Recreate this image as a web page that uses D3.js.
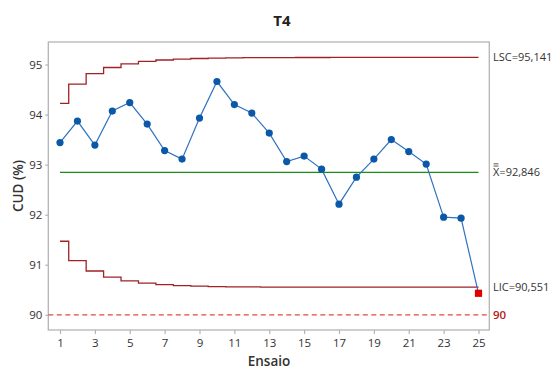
<!DOCTYPE html>
<html>
<head>
<meta charset="utf-8">
<script src="https://cdn.jsdelivr.net/npm/d3@7"></script>
<style>
  html, body { margin: 0; padding: 0; background: #fff; }
  svg { display: block; font-family: "Open Sans", "Noto Sans", sans-serif; }
</style>
</head>
<body>
<svg id="chart" width="552" height="369"></svg>
<script>
// Ensaio numbers (x) and CUD values (%)
const ensaio = d3.range(1, 26);
const cud = [93.44, 93.87, 93.39, 94.07, 94.24, 93.81, 93.28, 93.11, 93.93, 94.66,
             94.20, 94.03, 93.63, 93.06, 93.17, 92.91, 92.21, 92.75, 93.11, 93.50,
             93.26, 93.01, 91.95, 91.93, 90.43];
// stepped control limits for each ensaio
const lsc = [94.223, 94.609, 94.817, 94.940, 95.014, 95.061, 95.090, 95.108, 95.120, 95.128,
             95.133, 95.136, 95.138, 95.139, 95.140, 95.140, 95.141, 95.141, 95.141, 95.141,
             95.141, 95.141, 95.141, 95.141, 95.141];
const lic = [91.469, 91.083, 90.875, 90.752, 90.678, 90.631, 90.602, 90.584, 90.572, 90.564,
             90.559, 90.556, 90.554, 90.553, 90.552, 90.552, 90.551, 90.551, 90.551, 90.551,
             90.551, 90.551, 90.551, 90.551, 90.551];
const center = 92.846;
const limitUSC = 95.141;
const limitLIC = 90.551;
const spec = 90;
const xTicks = [1, 3, 5, 7, 9, 11, 13, 15, 17, 19, 21, 23, 25];
const yTicks = [90, 91, 92, 93, 94, 95];
const outOfControl = [25];

const fmt = v => d3.format(".3f")(v).replace(".", ",");

const svg = d3.select("#chart");
const frame = { left: 48.3, right: 489.3, top: 42, bottom: 330 };

const x = d3.scaleLinear().domain([1, 25]).range([60, 478.5]);
const y = d3.scaleLinear().domain([90, 95]).range([314.8, 64.5]);

const ink = "#333";

// frame
svg.append("rect")
  .attr("x", frame.left).attr("y", frame.top)
  .attr("width", frame.right - frame.left).attr("height", frame.bottom - frame.top)
  .attr("fill", "none").attr("stroke", "#b4b4b4").attr("stroke-width", 1.3);

// axes
const xAxis = svg.append("g")
  .attr("transform", `translate(0,${frame.bottom})`)
  .call(d3.axisBottom(x).tickValues(xTicks).tickFormat(d3.format("d"))
    .tickSize(4).tickSizeOuter(0).tickPadding(3));
const yAxis = svg.append("g")
  .attr("transform", `translate(${frame.left},0)`)
  .call(d3.axisLeft(y).tickValues(yTicks).tickFormat(d3.format("d"))
    .tickSize(3).tickSizeOuter(0).tickPadding(3));
[xAxis, yAxis].forEach(g => {
  g.select(".domain").remove();
  g.selectAll(".tick line").attr("stroke", "#b4b4b4").attr("stroke-width", 1.2);
  g.selectAll(".tick text").attr("fill", ink).attr("font-size", 11.5)
    .attr("font-family", "'Open Sans', 'Noto Sans', sans-serif");
});
xAxis.selectAll(".tick text").attr("dy", "0.9em");

// spec line at 90
svg.append("line")
  .attr("x1", frame.left).attr("x2", frame.right)
  .attr("y1", y(spec)).attr("y2", y(spec))
  .attr("stroke", "#e04848").attr("stroke-width", 1.2).attr("stroke-dasharray", "5,3.5");

// center line
svg.append("line")
  .attr("x1", x(1)).attr("x2", x(25))
  .attr("y1", y(center)).attr("y2", y(center))
  .attr("stroke", "#1a8c1a").attr("stroke-width", 1.3);

// control limits (stepped)
const step = d3.line().curve(d3.curveStep).x((d, i) => x(ensaio[i])).y(d => y(d));
[lsc, lic].forEach(arr => {
  svg.append("path").datum(arr)
    .attr("d", step)
    .attr("fill", "none").attr("stroke", "#9e2226").attr("stroke-width", 1.3);
});

// data line
const line = d3.line().x((d, i) => x(ensaio[i])).y(d => y(d));
svg.append("path").datum(cud)
  .attr("d", line)
  .attr("fill", "none").attr("stroke", "#2f72c0").attr("stroke-width", 1.2);

// markers
const pts = ensaio.map((e, i) => ({ e, v: cud[i] }));
svg.selectAll("circle.pt").data(pts.filter(d => !outOfControl.includes(d.e)))
  .join("circle").attr("class", "pt")
  .attr("cx", d => x(d.e)).attr("cy", d => y(d.v)).attr("r", 3.6)
  .attr("fill", "#0b57a8");
svg.selectAll("rect.pt").data(pts.filter(d => outOfControl.includes(d.e)))
  .join("rect").attr("class", "pt")
  .attr("x", d => x(d.e) - 3.6).attr("y", d => y(d.v) - 3.6)
  .attr("width", 7.2).attr("height", 7.2)
  .attr("fill", "#e00000");

// right-hand labels
const lx = 493;
svg.append("text").attr("x", lx).attr("y", y(limitUSC)).attr("dy", "0.35em")
  .attr("font-size", 11).attr("fill", ink).text("LSC=" + fmt(limitUSC));
svg.append("text").attr("x", lx).attr("y", y(limitLIC)).attr("dy", "0.35em")
  .attr("font-size", 11).attr("fill", ink).text("LIC=" + fmt(limitLIC));
svg.append("text").attr("x", lx).attr("y", y(center)).attr("dy", "0.35em")
  .attr("font-size", 11).attr("fill", ink).text("X=" + fmt(center));
// double bar over X
[0, 2.2].forEach(off => {
  svg.append("line")
    .attr("x1", lx + 0.5).attr("x2", lx + 5.5)
    .attr("y1", y(center) - 8.5 + off).attr("y2", y(center) - 8.5 + off)
    .attr("stroke", ink).attr("stroke-width", 0.8);
});
svg.append("text").attr("x", lx).attr("y", y(spec)).attr("dy", "0.35em")
  .attr("font-size", 11.5).attr("font-weight", 600).attr("fill", "#b52020").text(String(spec));

// titles
svg.append("text").attr("x", 282).attr("y", 26).attr("text-anchor", "middle")
  .attr("font-size", 15).attr("font-weight", "bold").attr("fill", "#222").text("T4");
svg.append("text").attr("x", 269).attr("y", 366).attr("text-anchor", "middle")
  .attr("font-size", 13.5).attr("font-weight", 600).attr("fill", ink).text("Ensaio");
svg.append("text").attr("transform", "translate(23,186) rotate(-90)").attr("text-anchor", "middle")
  .attr("font-size", 13.5).attr("font-weight", 600).attr("fill", ink).text("CUD (%)");
</script>
</body>
</html>
